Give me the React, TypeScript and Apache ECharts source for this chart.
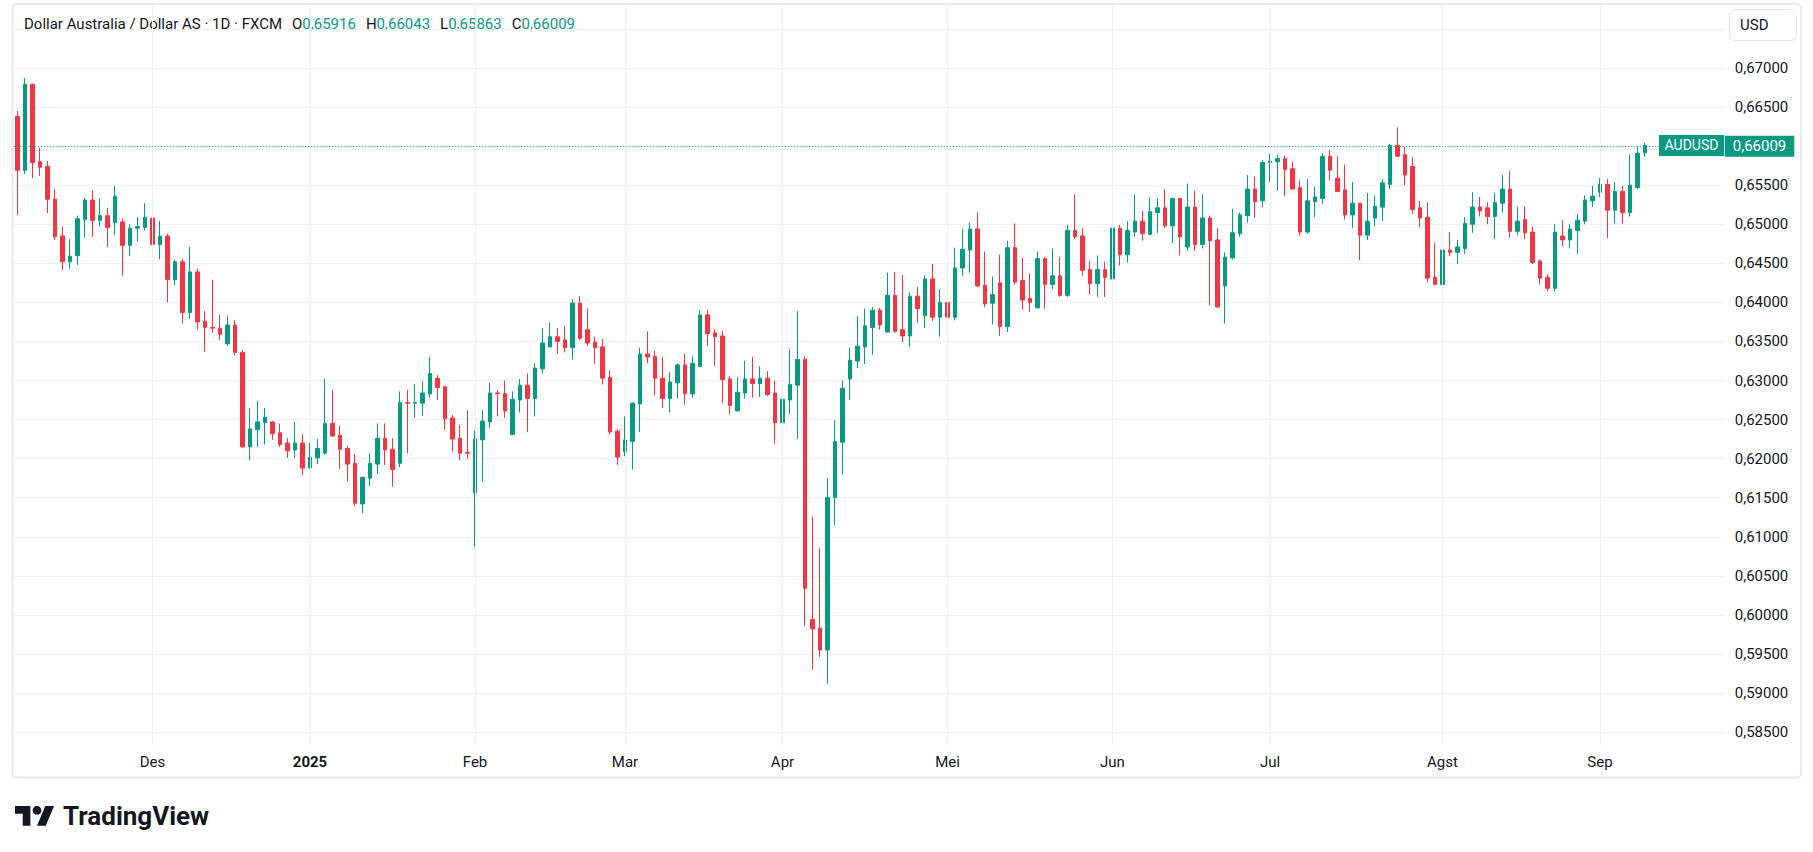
import React, { useEffect, useRef } from 'react';
import * as echarts from 'echarts';

// ---------- data ----------
const START_DATE = '2024-11-06';
const HOLIDAYS = ['2024-12-25', '2025-01-01'];
const EMPTY_SLOTS = 10;
const TAG_SLOT = 5; // empty slot (after the last bar) where the symbol tag sits
const MONTH_NAMES = ['Jan', 'Feb', 'Mar', 'Apr', 'Mei', 'Jun', 'Jul', 'Agst', 'Sep', 'Okt', 'Nov', 'Des'];
const TITLE = 'Dollar Australia / Dollar AS · 1D · FXCM';
const SYMBOL = 'AUDUSD';
const CURRENCY = 'USD';
const HIDDEN_TICKS = [0.66, 0.675];
const Y_MIN = 0.583344;
const Y_MAX = 0.678064;

const OPEN = [
  0.6638, 0.6569, 0.6679, 0.6580, 0.6574, 0.6532, 0.6485, 0.6452, 0.6460, 0.6506,
  0.6531, 0.6505, 0.6511, 0.6502, 0.6503, 0.6473, 0.6495, 0.6496, 0.6508, 0.6474,
  0.6485, 0.6429, 0.6452, 0.6387, 0.6439, 0.6376, 0.6368, 0.6367, 0.6347, 0.6371,
  0.6336, 0.6215, 0.6237, 0.6246, 0.6247, 0.6233, 0.6220, 0.6211, 0.6220, 0.6188,
  0.6201, 0.6207, 0.6245, 0.6230, 0.6213, 0.6194, 0.6142, 0.6175, 0.6193, 0.6226,
  0.6212, 0.6194, 0.6272, 0.6271, 0.6271, 0.6283, 0.6303, 0.6292, 0.6252, 0.6226,
  0.6208, 0.6156, 0.6224, 0.6247, 0.6284, 0.6283, 0.6231, 0.6275, 0.6294, 0.6277,
  0.6315, 0.6343, 0.6356, 0.6352, 0.6342, 0.6399, 0.6365, 0.6349, 0.6343, 0.6304,
  0.6235, 0.6209, 0.6222, 0.6270, 0.6334, 0.6331, 0.6303, 0.6277, 0.6297, 0.6320,
  0.6283, 0.6318, 0.6384, 0.6361, 0.6357, 0.6302, 0.6261, 0.6284, 0.6302, 0.6296,
  0.6303, 0.6284, 0.6246, 0.6275, 0.6294, 0.6327, 0.5994, 0.5983, 0.5955, 0.6150,
  0.6221, 0.6302, 0.6325, 0.6343, 0.6368, 0.6390, 0.6362, 0.6409, 0.6365, 0.6357,
  0.6408, 0.6383, 0.6430, 0.6381, 0.6400, 0.6381, 0.6444, 0.6467, 0.6494, 0.6422,
  0.6399, 0.6425, 0.6369, 0.6470, 0.6428, 0.6405, 0.6393, 0.6456, 0.6423, 0.6434,
  0.6409, 0.6492, 0.6485, 0.6442, 0.6424, 0.6442, 0.6430, 0.6495, 0.6461, 0.6490,
  0.6504, 0.6487, 0.6515, 0.6521, 0.6498, 0.6533, 0.6471, 0.6522, 0.6474, 0.6508,
  0.6480, 0.6421, 0.6457, 0.6488, 0.6511, 0.6545, 0.6530, 0.6579, 0.6580, 0.6584,
  0.6571, 0.6547, 0.6490, 0.6529, 0.6533, 0.6587, 0.6559, 0.6544, 0.6512, 0.6527,
  0.6486, 0.6508, 0.6522, 0.6551, 0.6601, 0.6589, 0.6574, 0.6521, 0.6509, 0.6432,
  0.6423, 0.6467, 0.6464, 0.6469, 0.6500, 0.6522, 0.6521, 0.6510, 0.6527, 0.6545,
  0.6491, 0.6506, 0.6490, 0.6453, 0.6432, 0.6418, 0.6485, 0.6480, 0.6492, 0.6504,
  0.6530, 0.6541, 0.6551, 0.6518, 0.6542, 0.6515, 0.6547, 0.65916,
];

const HIGH = [
  0.6645, 0.6687, 0.6680, 0.6598, 0.6581, 0.6545, 0.6497, 0.6481, 0.6511, 0.6534,
  0.6544, 0.6533, 0.6521, 0.6549, 0.6507, 0.6500, 0.6509, 0.6527, 0.6515, 0.6504,
  0.6488, 0.6454, 0.6456, 0.6471, 0.6443, 0.6389, 0.6429, 0.6384, 0.6383, 0.6377,
  0.6339, 0.6265, 0.6274, 0.6265, 0.6248, 0.6245, 0.6226, 0.6247, 0.6231, 0.6220,
  0.6225, 0.6302, 0.6288, 0.6242, 0.6216, 0.6206, 0.6177, 0.6207, 0.6245, 0.6245,
  0.6226, 0.6286, 0.6288, 0.6295, 0.6299, 0.6330, 0.6307, 0.6293, 0.6256, 0.6243,
  0.6262, 0.6236, 0.6262, 0.6297, 0.6288, 0.6300, 0.6286, 0.6302, 0.6309, 0.6322,
  0.6367, 0.6374, 0.6367, 0.6370, 0.6404, 0.6408, 0.6392, 0.6356, 0.6353, 0.6313,
  0.6238, 0.6254, 0.6272, 0.6342, 0.6363, 0.6338, 0.6330, 0.6311, 0.6322, 0.6334,
  0.6331, 0.6390, 0.6390, 0.6366, 0.6363, 0.6306, 0.6304, 0.6325, 0.6330, 0.6318,
  0.6312, 0.6300, 0.6283, 0.6340, 0.6389, 0.6331, 0.6126, 0.6085, 0.6175, 0.6249,
  0.6300, 0.6342, 0.6383, 0.6392, 0.6394, 0.6393, 0.6438, 0.6439, 0.6435, 0.6413,
  0.6420, 0.6435, 0.6449, 0.6417, 0.6427, 0.6470, 0.6494, 0.6502, 0.6515, 0.6465,
  0.6433, 0.6461, 0.6479, 0.6501, 0.6457, 0.6437, 0.6465, 0.6458, 0.6469, 0.6458,
  0.6499, 0.6538, 0.6495, 0.6453, 0.6460, 0.6452, 0.6501, 0.6499, 0.6504, 0.6538,
  0.6517, 0.6534, 0.6533, 0.6545, 0.6534, 0.6534, 0.6552, 0.6543, 0.6538, 0.6511,
  0.6495, 0.6464, 0.6520, 0.6515, 0.6563, 0.6561, 0.6582, 0.6590, 0.6589, 0.6588,
  0.6580, 0.6556, 0.6558, 0.6548, 0.6591, 0.6595, 0.6587, 0.6576, 0.6554, 0.6527,
  0.6540, 0.6537, 0.6558, 0.6603, 0.6624, 0.6599, 0.6586, 0.6530, 0.6528, 0.6476,
  0.6492, 0.6490, 0.6480, 0.6509, 0.6541, 0.6535, 0.6528, 0.6540, 0.6563, 0.6568,
  0.6522, 0.6523, 0.6497, 0.6455, 0.6436, 0.6500, 0.6505, 0.6500, 0.6513, 0.6537,
  0.6549, 0.6559, 0.6558, 0.6554, 0.6549, 0.6589, 0.6599, 0.66043,
];

const LOW = [
  0.6512, 0.6564, 0.6559, 0.6562, 0.6514, 0.6480, 0.6441, 0.6443, 0.6448, 0.6483,
  0.6484, 0.6497, 0.6471, 0.6486, 0.6434, 0.6459, 0.6478, 0.6492, 0.6443, 0.6455,
  0.6400, 0.6422, 0.6373, 0.6379, 0.6365, 0.6337, 0.6361, 0.6352, 0.6344, 0.6332,
  0.6214, 0.6198, 0.6215, 0.6218, 0.6224, 0.6215, 0.6201, 0.6201, 0.6179, 0.6187,
  0.6193, 0.6205, 0.6228, 0.6187, 0.6171, 0.6139, 0.6130, 0.6165, 0.6180, 0.6192,
  0.6164, 0.6189, 0.6207, 0.6252, 0.6255, 0.6278, 0.6275, 0.6237, 0.6209, 0.6198,
  0.6200, 0.6087, 0.6170, 0.6239, 0.6254, 0.6252, 0.6231, 0.6259, 0.6234, 0.6254,
  0.6309, 0.6343, 0.6334, 0.6336, 0.6327, 0.6352, 0.6344, 0.6321, 0.6295, 0.6231,
  0.6192, 0.6203, 0.6186, 0.6234, 0.6322, 0.6281, 0.6265, 0.6259, 0.6277, 0.6269,
  0.6278, 0.6317, 0.6344, 0.6319, 0.6271, 0.6257, 0.6261, 0.6277, 0.6278, 0.6279,
  0.6280, 0.6219, 0.6232, 0.6257, 0.6225, 0.5986, 0.5930, 0.5946, 0.5912, 0.6115,
  0.6180, 0.6275, 0.6316, 0.6321, 0.6333, 0.6365, 0.6362, 0.6361, 0.6349, 0.6343,
  0.6374, 0.6367, 0.6376, 0.6356, 0.6365, 0.6377, 0.6434, 0.6438, 0.6420, 0.6394,
  0.6372, 0.6357, 0.6362, 0.6423, 0.6391, 0.6388, 0.6393, 0.6392, 0.6417, 0.6407,
  0.6407, 0.6481, 0.6434, 0.6410, 0.6407, 0.6407, 0.6428, 0.6447, 0.6451, 0.6484,
  0.6479, 0.6487, 0.6489, 0.6495, 0.6476, 0.6460, 0.6466, 0.6466, 0.6469, 0.6396,
  0.6394, 0.6373, 0.6455, 0.6484, 0.6502, 0.6508, 0.6522, 0.6554, 0.6543, 0.6536,
  0.6545, 0.6485, 0.6488, 0.6509, 0.6526, 0.6556, 0.6542, 0.6506, 0.6495, 0.6454,
  0.6480, 0.6497, 0.6504, 0.6545, 0.6586, 0.6550, 0.6513, 0.6496, 0.6426, 0.6423,
  0.6418, 0.6459, 0.6449, 0.6462, 0.6489, 0.6510, 0.6500, 0.6481, 0.6515, 0.6483,
  0.6486, 0.6481, 0.6449, 0.6423, 0.6414, 0.6414, 0.6472, 0.6469, 0.6462, 0.6500,
  0.6522, 0.6535, 0.6482, 0.6501, 0.6501, 0.6510, 0.6545, 0.65863,
];

const CLOSE = [
  0.6569, 0.6679, 0.6579, 0.6573, 0.6532, 0.6484, 0.6452, 0.6459, 0.6507, 0.6531,
  0.6505, 0.6511, 0.6496, 0.6536, 0.6473, 0.6495, 0.6497, 0.6509, 0.6474, 0.6485,
  0.6429, 0.6452, 0.6387, 0.6439, 0.6375, 0.6368, 0.6367, 0.6359, 0.6371, 0.6336,
  0.6215, 0.6238, 0.6247, 0.6253, 0.6232, 0.6218, 0.6210, 0.6220, 0.6188, 0.6202,
  0.6213, 0.6245, 0.6229, 0.6212, 0.6193, 0.6143, 0.6176, 0.6194, 0.6226, 0.6211,
  0.6186, 0.6272, 0.6271, 0.6272, 0.6284, 0.6309, 0.6291, 0.6251, 0.6225, 0.6207,
  0.6207, 0.6225, 0.6248, 0.6284, 0.6283, 0.6261, 0.6276, 0.6294, 0.6277, 0.6316,
  0.6348, 0.6356, 0.6350, 0.6342, 0.6399, 0.6354, 0.6348, 0.6342, 0.6303, 0.6234,
  0.6202, 0.6224, 0.6271, 0.6334, 0.6330, 0.6303, 0.6277, 0.6298, 0.6320, 0.6283,
  0.6322, 0.6384, 0.6360, 0.6356, 0.6301, 0.6268, 0.6285, 0.6302, 0.6296, 0.6303,
  0.6282, 0.6246, 0.6276, 0.6295, 0.6327, 0.6034, 0.5982, 0.5955, 0.6150, 0.6222,
  0.6290, 0.6326, 0.6344, 0.6370, 0.6390, 0.6371, 0.6409, 0.6363, 0.6357, 0.6408,
  0.6392, 0.6430, 0.6381, 0.6400, 0.6381, 0.6444, 0.6468, 0.6494, 0.6421, 0.6398,
  0.6410, 0.6369, 0.6470, 0.6426, 0.6403, 0.6400, 0.6456, 0.6423, 0.6434, 0.6409,
  0.6492, 0.6484, 0.6441, 0.6424, 0.6442, 0.6432, 0.6495, 0.6461, 0.6492, 0.6504,
  0.6488, 0.6516, 0.6521, 0.6498, 0.6533, 0.6484, 0.6522, 0.6474, 0.6508, 0.6479,
  0.6394, 0.6458, 0.6489, 0.6512, 0.6545, 0.6529, 0.6579, 0.6581, 0.6584, 0.6570,
  0.6545, 0.6490, 0.6530, 0.6535, 0.6587, 0.6569, 0.6542, 0.6512, 0.6527, 0.6486,
  0.6504, 0.6523, 0.6553, 0.6601, 0.6587, 0.6563, 0.6519, 0.6508, 0.6431, 0.6423,
  0.6467, 0.6464, 0.6471, 0.6501, 0.6522, 0.6517, 0.6510, 0.6528, 0.6545, 0.6491,
  0.6504, 0.6489, 0.6451, 0.6431, 0.6418, 0.6490, 0.6480, 0.6494, 0.6505, 0.6531,
  0.6536, 0.6551, 0.6518, 0.6542, 0.6515, 0.6550, 0.6591, 0.66009,
];

// ---------- style ----------
const UP = '#089981';
const DOWN = '#F23645';
const TEXT = '#131722';
const GRID = '#F0F0F2';
const FONT = 'Roboto, "Noto Sans", sans-serif';

const TV_LOGO_PATH =
  'M14 22H7V11H0V4h14v18zM28 22h-8l7.5-18h8L28 22zM24 8a4 4 0 1 1-8 0a4 4 0 1 1 8 0z';
echarts.graphic.registerShape('tvlogo', echarts.graphic.extendPath(TV_LOGO_PATH, {}) as any);

function buildDates(start: string, count: number, holidays: string[]): string[] {
  const out: string[] = [];
  const d = new Date(start + 'T00:00:00Z');
  while (out.length < count) {
    const dow = d.getUTCDay();
    const iso = d.toISOString().slice(0, 10);
    if (dow !== 0 && dow !== 6 && holidays.indexOf(iso) < 0) out.push(iso);
    d.setUTCDate(d.getUTCDate() + 1);
  }
  return out;
}

const fmt = (v: number) => v.toFixed(5).replace('.', ',');

export default function App() {
  const ref = useRef<HTMLDivElement>(null);

  useEffect(() => {
    if (!ref.current) return;
    const chart = echarts.init(ref.current, undefined, { renderer: 'svg' });

    const n = OPEN.length;
    const dates = buildDates(START_DATE, n + EMPTY_SLOTS, HOLIDAYS);
    const monthStarts: number[] = [];
    for (let i = 1; i < n; i++) {
      if (dates[i].slice(5, 7) !== dates[i - 1].slice(5, 7)) monthStarts.push(i);
    }
    const monthSet = new Set(monthStarts);
    const labelFor = (i: number) => {
      const m = +dates[i].slice(5, 7);
      return m === 1 ? `{y|${dates[i].slice(0, 4)}}` : MONTH_NAMES[m - 1];
    };

    const candles: any[] = OPEN.map((o, i) => [o, CLOSE[i], LOW[i], HIGH[i]]);
    for (let k = 0; k < EMPTY_SLOTS; k++) candles.push('-');
    const blanks = dates.map(() => '-');

    const last = n - 1;
    const lastClose = CLOSE[last];

    const titleText =
      `{t|${TITLE}}{k|O}{g|${fmt(OPEN[last])}}{k|H}{g|${fmt(HIGH[last])}}` +
      `{k|L}{g|${fmt(LOW[last])}}{k|C}{g|${fmt(CLOSE[last])}}`;

    const option: any = {
      animation: false,
      backgroundColor: '#ffffff',
      textStyle: { fontFamily: FONT },
      grid: { left: 13.75, right: 89.25, top: 5, bottom: 107, containLabel: false },
      xAxis: {
        type: 'category',
        data: dates,
        boundaryGap: true,
        axisLine: { show: false },
        axisTick: { show: false },
        splitLine: { show: false },
        axisLabel: {
          interval: (i: number) => monthSet.has(i),
          formatter: (_v: string, i: number) => labelFor(i),
          color: TEXT,
          fontSize: 15,
          fontFamily: FONT,
          margin: 9,
          rich: { y: { fontWeight: 'bold', fontSize: 15, color: TEXT, fontFamily: FONT } },
        },
      },
      yAxis: {
        type: 'value',
        position: 'right',
        min: Y_MIN,
        max: Y_MAX,
        splitNumber: 19,
        axisLine: { show: false },
        axisTick: { show: false },
        splitLine: {
          show: true,
          showMinLine: false,
          showMaxLine: false,
          lineStyle: { color: GRID, width: 1 },
        },
        axisLabel: {
          showMinLabel: false,
          showMaxLabel: false,
          margin: 11,
          color: TEXT,
          fontSize: 15,
          fontFamily: FONT,
          formatter: (v: number) =>
            HIDDEN_TICKS.some((h) => Math.abs(h - v) < 1e-7) ? '' : fmt(v),
        },
      },
      series: [
        {
          type: 'line',
          data: blanks,
          silent: true,
          z: 1,
          symbol: 'none',
          markLine: {
            silent: true,
            symbol: ['none', 'none'],
            label: { show: false },
            lineStyle: { color: GRID, width: 1, type: 'solid' },
            data: monthStarts.map((i) => ({ xAxis: dates[i] })),
          },
        },
        {
          type: 'candlestick',
          z: 3,
          silent: true,
          barWidth: 4,
          data: candles,
          itemStyle: {
            color: UP,
            color0: DOWN,
            borderColor: UP,
            borderColor0: DOWN,
            borderWidth: 1,
          },
        },
        {
          type: 'line',
          data: blanks,
          silent: true,
          z: 4,
          symbol: 'none',
          markLine: {
            silent: true,
            symbol: ['none', 'none'],
            data: [
              {
                yAxis: lastClose,
                lineStyle: { color: UP, width: 1, type: [1, 2] },
                label: {
                  show: true,
                  position: 'end',
                  distance: 1,
                  formatter: fmt(lastClose),
                  backgroundColor: UP,
                  color: '#ffffff',
                  fontSize: 15,
                  fontFamily: FONT,
                  lineHeight: 17,
                  padding: [2, 8, 2, 8],
                },
              },
            ],
          },
          markPoint: {
            silent: true,
            symbol: 'rect',
            symbolSize: [65, 21],
            symbolOffset: [1.5, 0],
            itemStyle: { color: UP },
            label: {
              show: true,
              position: 'inside',
              formatter: SYMBOL,
              color: '#ffffff',
              fontSize: 14,
              fontFamily: FONT,
            },
            data: [{ coord: [dates[n + TAG_SLOT], lastClose] }],
          },
        },
      ],
      graphic: [
        {
          type: 'rect',
          silent: true,
          z: 0,
          shape: { x: 12.5, y: 4, width: 1788.5, height: 773.5, r: 4 },
          style: { fill: 'none', stroke: '#EBEBEB', lineWidth: 2 },
        },
        {
          type: 'text',
          silent: true,
          x: 24,
          y: 24,
          style: {
            text: titleText,
            verticalAlign: 'middle',
            rich: {
              t: { fill: TEXT, fontSize: 15, fontFamily: FONT },
              k: { fill: TEXT, fontSize: 15, fontFamily: FONT, padding: [0, 0, 0, 10] },
              g: { fill: UP, fontSize: 15, fontFamily: FONT },
            },
          },
        },
        {
          type: 'rect',
          silent: true,
          shape: { x: 1729.5, y: 9.5, width: 67, height: 31, r: 6 },
          style: { fill: '#ffffff', stroke: '#E0E3EB', lineWidth: 1 },
        },
        {
          type: 'text',
          silent: true,
          x: 1740,
          y: 25,
          style: {
            text: CURRENCY,
            fill: TEXT,
            fontSize: 15,
            fontFamily: FONT,
            verticalAlign: 'middle',
          },
        },
        {
          type: 'tvlogo',
          silent: true,
          x: 15,
          y: 801.6,
          scaleX: 1.1,
          scaleY: 1.1,
          style: { fill: TEXT },
        },
        {
          type: 'text',
          silent: true,
          x: 63,
          y: 816,
          style: {
            text: 'TradingView',
            fill: TEXT,
            fontSize: 26,
            fontWeight: 'bold',
            fontFamily: FONT,
            verticalAlign: 'middle',
          },
        },
      ],
    };

    chart.setOption(option);
    return () => chart.dispose();
  }, []);

  return (
    <div
      style={{
        position: 'fixed',
        left: 0,
        top: 0,
        width: 1813,
        height: 852,
        background: '#ffffff',
      }}
    >
      <div ref={ref} style={{ width: 1813, height: 852 }} />
    </div>
  );
}
